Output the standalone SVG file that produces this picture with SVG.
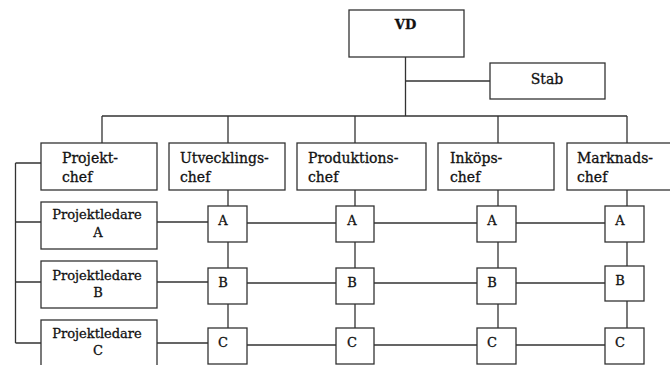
<svg xmlns="http://www.w3.org/2000/svg" width="670" height="365" viewBox="0 0 670 365">
<style>
.box{fill:#fff;stroke:#333;stroke-width:1.3}
.ln{fill:none;stroke:#333;stroke-width:1.3}
text{font-family:"DejaVu Serif","Liberation Serif",serif;fill:#111;stroke:#111;stroke-width:0.3}
.h{font-size:14px}
.s{font-size:13px;text-anchor:middle}
.c{font-size:13px;text-anchor:middle}
</style>
<rect width="670" height="365" fill="#fff"/>
<g id="connectors" class="ln">
<path d="M405.5 57V116M405.5 81H490M102 116H627"/>
<path d="M102 116V143M228 116V143M355 116V143M498 116V143M627 116V143"/>
<path d="M15.5 163V343M15.5 163H41M15.5 222H41M15.5 282H41M15.5 343H41"/>
<path d="M228 190V206M228 242V268M228 304V328"/>
<path d="M355 190V206M355 242V268M355 304V328"/>
<path d="M498 190V206M498 242V268M498 304V328"/>
<path d="M627 190V206M627 242V266M627 301V328"/>
<path d="M157 222H208M247 223H336M374 223H477M516 223H605"/>
<path d="M157 282H208M247 283H336M374 283H477M516 283H605"/>
<path d="M157 343H208M247 345H336M374 345H477M516 345H605"/>
</g>
<g id="vd"><rect class="box" x="349" y="10" width="115" height="47"/><text x="405.5" y="28.5" font-size="13" font-weight="bold" stroke-width="0" text-anchor="middle">VD</text></g>
<g id="stab"><rect class="box" x="490" y="63" width="115" height="36"/><text class="h" x="547" y="83.5" text-anchor="middle">Stab</text></g>
<g id="projektchef"><rect class="box" x="41" y="143" width="116" height="47"/><text class="h" x="62" y="162.7">Projekt-</text><text class="h" x="62" y="181.7">chef</text></g>
<g id="utvecklingschef"><rect class="box" x="169" y="143" width="116" height="47"/><text class="h" x="180" y="162.7">Utvecklings-</text><text class="h" x="180" y="181.7">chef</text></g>
<g id="produktionschef"><rect class="box" x="297" y="143" width="129" height="47"/><text class="h" x="308" y="162.7">Produktions-</text><text class="h" x="308" y="181.7">chef</text></g>
<g id="inkopschef"><rect class="box" x="438" y="143" width="116" height="47"/><text class="h" x="450" y="162.7">Inköps-</text><text class="h" x="450" y="181.7">chef</text></g>
<g id="marknadschef"><rect class="box" x="567" y="143" width="120" height="47"/><text class="h" x="577" y="162.7">Marknads-</text><text class="h" x="577" y="181.7">chef</text></g>
<g id="projektledareA"><rect class="box" x="41" y="202" width="116" height="47"/><text class="s" x="97" y="219.3">Projektledare</text><text class="s" x="98" y="236.7">A</text></g>
<g id="projektledareB"><rect class="box" x="41" y="261" width="116" height="47"/><text class="s" x="97" y="280">Projektledare</text><text class="s" x="98" y="296.7">B</text></g>
<g id="projektledareC"><rect class="box" x="41" y="320" width="116" height="50"/><text class="s" x="97" y="338.3">Projektledare</text><text class="s" x="98" y="355">C</text></g>
<g id="u-A"><rect class="box" x="208" y="206" width="39" height="36"/><text class="c" x="223" y="225">A</text></g>
<g id="u-B"><rect class="box" x="208" y="268" width="39" height="36"/><text class="c" x="223" y="287">B</text></g>
<g id="u-C"><rect class="box" x="208" y="328" width="39" height="36"/><text class="c" x="223" y="346.5">C</text></g>
<g id="p-A"><rect class="box" x="336" y="206" width="38" height="36"/><text class="c" x="352" y="225">A</text></g>
<g id="p-B"><rect class="box" x="336" y="268" width="38" height="36"/><text class="c" x="352" y="287">B</text></g>
<g id="p-C"><rect class="box" x="336" y="328" width="38" height="36"/><text class="c" x="352" y="346.5">C</text></g>
<g id="i-A"><rect class="box" x="477" y="206" width="39" height="36"/><text class="c" x="492" y="225">A</text></g>
<g id="i-B"><rect class="box" x="477" y="268" width="39" height="36"/><text class="c" x="492" y="287">B</text></g>
<g id="i-C"><rect class="box" x="477" y="328" width="39" height="36"/><text class="c" x="492" y="346.5">C</text></g>
<g id="m-A"><rect class="box" x="605" y="206" width="39" height="36"/><text class="c" x="620" y="225">A</text></g>
<g id="m-B"><rect class="box" x="605" y="266" width="39" height="35"/><text class="c" x="620" y="284.5">B</text></g>
<g id="m-C"><rect class="box" x="605" y="328" width="39" height="36"/><text class="c" x="620" y="346.5">C</text></g>
</svg>
